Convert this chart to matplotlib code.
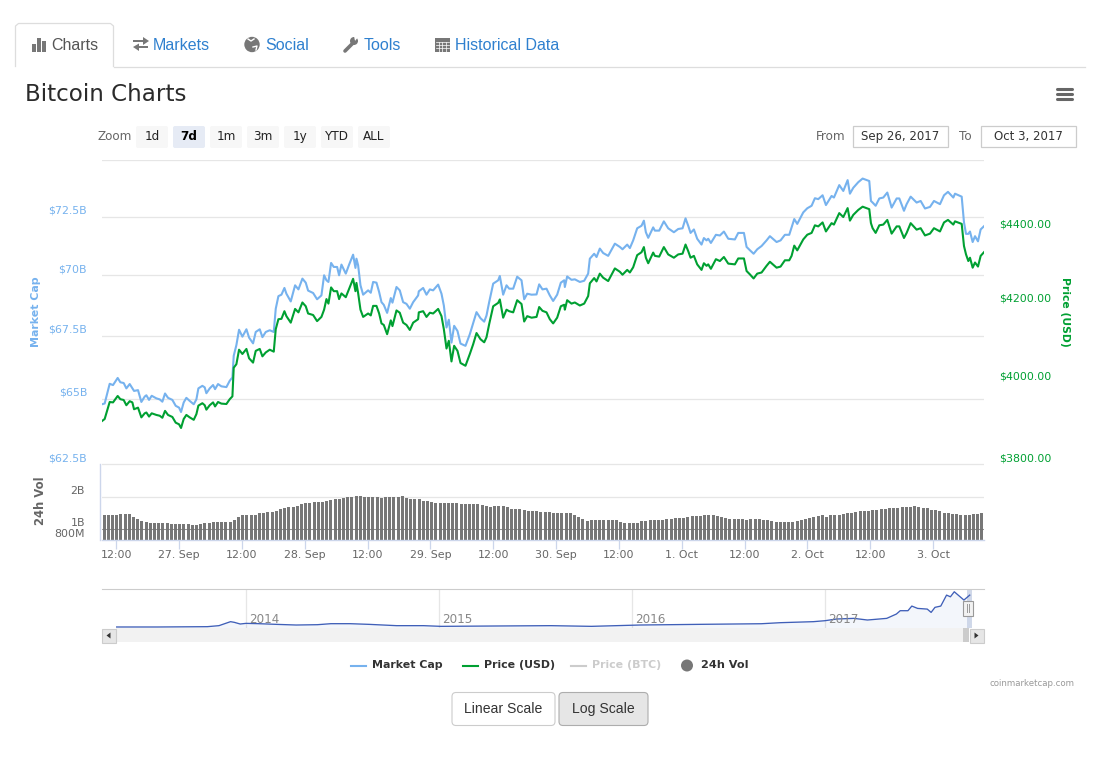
import numpy as np
import matplotlib
matplotlib.use("Agg")
import matplotlib.pyplot as plt
from matplotlib.patches import Circle, FancyBboxPatch, Polygon, Rectangle
from matplotlib.ticker import NullLocator

W, H = 1113, 767

# hours relative to 27 Sep 2017 00:00, as first
read_hours = [
    -14.73, -14.22, -13.77, -13.26, -12.62, -11.73, -11.22, -10.58, -10.07, -9.43,
    -8.92, -8.6, -7.84, -7.2, -6.56, -6.24, -5.73, -5.22, -4.33, -3.69,
    -3.18, -2.67, -2.1, -1.27, -0.63, 0.01, 0.39, 0.9, 1.41, 2.05,
    2.82, 3.33, 3.71, 4.47, 4.92, 5.24, 5.88, 6.52, 6.9, 7.47,
    8.11, 9.07, 9.71, 10.22, 10.47, 10.98, 11.49, 12.13, 12.9, 13.41,
    14.17, 14.68, 15.45, 15.96, 16.6, 17.36, 18.13, 18.51, 19.02, 19.6,
    20.17, 20.55, 21.38, 22.21, 22.85, 23.61, 24.25, 24.7, 25.66, 26.42,
    27.25, 27.76, 28.21, 28.59, 29.1, 29.61, 30.25, 30.63, 31.08, 31.91,
    32.55, 33.31, 33.76, 33.95, 34.27, 34.72, 35.23, 36.18, 36.69, 37.14,
    37.78, 38.29, 38.74, 39.18, 39.82, 40.52, 40.84, 41.61, 42.24, 42.88,
    43.52, 44.16, 44.8, 45.75, 45.88, 46.71, 47.35, 47.99, 48.62, 49.58,
    50.22, 50.67, 51.18, 51.62, 52.13, 52.64, 53.28, 53.86, 54.81, 55.64,
    56.28, 56.92, 57.68, 58.39, 58.83, 59.34, 60.11, 61.07, 61.38, 62.02,
    62.66, 63.17, 63.94, 64.7, 65.53, 66.04, 66.62, 67.45, 68.4, 68.91,
    69.54, 70.31, 70.94, 71.58, 72.35, 73.05, 73.69, 73.82, 74.26, 75.09,
    75.73, 76.69, 77.52, 78.28, 78.6, 79.43, 79.88, 80.51, 81.15, 82.11,
    83.39, 84.34, 84.85, 85.75, 86.26, 86.89, 87.66, 88.49, 88.94, 89.32,
    89.77, 90.72, 91.04, 91.87, 92.76, 93.59, 94.68, 95.51, 96.34, 96.91,
    97.42, 97.87, 98.51, 99.14, 99.97, 100.42, 100.93, 101.25, 101.76, 102.72,
    103.48, 104.25, 105.08, 106.35, 106.99, 108.08, 108.59, 109.22, 109.93, 110.63,
    111.46, 112.41, 113.05, 114.33, 115.09, 115.92, 116.75, 117.2, 117.71, 118.28,
    119.43, 120.2, 121.03, 121.66, 122.3, 123.13, 123.77, 124.85, 125.3, 126.32,
    127.09, 127.92, 128.36, 129.0, 129.96, 130.79, 132.06, 132.38, 132.7, 133.28,
    133.98, 134.74, 135.51, 136.34, 137.3, 137.81, 138.7, 139.21, 139.98, 141.12,
    141.89, 142.72, 143.68, 144.44, 145.59, 146.36, 147.12, 148.14, 148.46, 149.74,
    150.18, 150.57, 151.01, 151.33, 151.84, 152.29, 152.86, 153.37, 154.01,
]
# day ticks came out a touch wider than my first reading, so calibrate
hours = [h * 0.998 for h in read_hours]

market_cap = [
    64.78, 64.81, 65.17, 65.58, 65.53, 65.81, 65.64, 65.61, 65.40, 65.57,
    65.40, 65.30, 65.33, 64.87, 65.08, 65.13, 64.95, 65.11, 65.01, 64.97,
    64.88, 65.20, 65.03, 64.95, 64.72, 64.65, 64.48, 64.85, 65.03, 64.91,
    64.78, 64.97, 65.40, 65.50, 65.44, 65.21, 65.40, 65.53, 65.37, 65.57,
    65.48, 65.45, 65.70, 65.83, 66.69, 67.12, 67.74, 67.46, 67.76, 67.42,
    67.19, 67.65, 67.76, 67.44, 67.65, 67.72, 67.65, 68.60, 69.12, 69.18,
    69.46, 69.22, 68.90, 69.57, 69.40, 69.85, 69.68, 69.35, 69.25, 68.99,
    69.15, 69.99, 69.78, 69.71, 70.51, 70.34, 70.34, 69.99, 70.44, 70.06,
    70.44, 70.86, 70.30, 70.69, 70.41, 69.57, 69.18, 69.36, 69.26, 69.71,
    69.68, 69.29, 68.87, 68.76, 68.43, 69.04, 68.85, 69.50, 69.36, 68.87,
    68.80, 68.60, 68.87, 69.15, 69.32, 69.46, 69.18, 69.40, 69.36, 69.60,
    69.22, 68.73, 67.83, 68.15, 67.22, 67.90, 67.69, 67.18, 67.09, 67.56,
    68.01, 68.46, 68.21, 68.07, 68.32, 68.87, 69.64, 69.78, 69.96, 69.18,
    69.57, 69.43, 69.43, 69.93, 69.78, 68.99, 69.22, 69.18, 69.19, 69.61,
    69.40, 69.43, 69.15, 68.92, 69.18, 69.68, 69.78, 69.50, 69.94, 69.80,
    69.82, 69.71, 69.76, 70.06, 70.69, 70.90, 70.76, 71.12, 70.93, 70.81,
    71.33, 71.19, 71.09, 71.29, 71.14, 71.47, 71.99, 72.10, 72.32, 71.82,
    71.58, 72.03, 71.89, 71.89, 72.29, 71.99, 71.82, 71.96, 71.99, 72.42,
    72.10, 71.79, 71.94, 71.54, 71.29, 71.57, 71.47, 71.54, 71.36, 71.71,
    71.68, 71.85, 71.54, 71.51, 71.79, 71.79, 71.19, 71.05, 70.90, 71.09,
    71.23, 71.47, 71.65, 71.40, 71.47, 71.71, 71.71, 72.03, 72.39, 72.18,
    72.68, 72.86, 72.97, 73.30, 73.26, 73.43, 73.00, 73.40, 73.33, 73.88,
    73.62, 74.10, 73.50, 73.76, 74.01, 74.17, 74.06, 73.18, 73.11, 72.97,
    73.29, 73.33, 73.55, 72.89, 73.29, 73.29, 72.75, 73.04, 73.37, 73.11,
    73.18, 72.85, 72.92, 73.18, 73.04, 73.43, 73.58, 73.33, 73.50, 73.37,
    72.25, 71.75, 71.75, 71.85, 71.40, 71.65, 71.43, 71.94, 72.08,
]

price_usd = [
    3904, 3909, 3929, 3951, 3950, 3966, 3958, 3956, 3943, 3953,
    3950, 3933, 3937, 3913, 3923, 3925, 3915, 3923, 3919, 3917,
    3912, 3929, 3919, 3914, 3900, 3896, 3887, 3909, 3919, 3913,
    3907, 3921, 3942, 3948, 3943, 3932, 3943, 3950, 3940, 3951,
    3947, 3946, 3958, 3965, 4037, 4046, 4083, 4072, 4085, 4061,
    4050, 4080, 4085, 4066, 4076, 4083, 4078, 4136, 4162, 4163,
    4183, 4170, 4153, 4189, 4180, 4206, 4196, 4177, 4173, 4157,
    4168, 4187, 4215, 4203, 4246, 4236, 4236, 4215, 4230, 4220,
    4242, 4269, 4236, 4258, 4231, 4187, 4168, 4177, 4172, 4197,
    4197, 4177, 4151, 4147, 4123, 4159, 4144, 4185, 4179, 4153,
    4147, 4134, 4153, 4162, 4180, 4183, 4168, 4179, 4177, 4189,
    4170, 4136, 4086, 4106, 4053, 4093, 4080, 4049, 4042, 4072,
    4097, 4126, 4110, 4102, 4115, 4149, 4196, 4205, 4214, 4166,
    4187, 4183, 4180, 4212, 4202, 4156, 4170, 4166, 4168, 4194,
    4184, 4180, 4162, 4151, 4166, 4196, 4200, 4187, 4212, 4203,
    4206, 4198, 4203, 4223, 4257, 4271, 4262, 4283, 4272, 4263,
    4297, 4288, 4280, 4293, 4286, 4300, 4333, 4341, 4355, 4326,
    4311, 4340, 4331, 4329, 4355, 4335, 4326, 4335, 4337, 4362,
    4344, 4326, 4331, 4308, 4293, 4311, 4304, 4308, 4296, 4322,
    4317, 4328, 4310, 4308, 4324, 4324, 4290, 4281, 4270, 4283,
    4286, 4304, 4315, 4299, 4302, 4319, 4319, 4331, 4359, 4346,
    4376, 4389, 4394, 4415, 4412, 4423, 4398, 4421, 4417, 4449,
    4438, 4463, 4428, 4444, 4458, 4467, 4460, 4421, 4407, 4394,
    4415, 4417, 4430, 4392, 4412, 4412, 4380, 4394, 4421, 4403,
    4407, 4387, 4392, 4407, 4398, 4423, 4430, 4417, 4426, 4419,
    4358, 4335, 4317, 4326, 4299, 4313, 4302, 4331, 4341,
]

# 24h volume in billions, one value per bar
volume = [
    1.27, 1.27, 1.27, 1.27, 1.29, 1.30, 1.28, 1.19, 1.14, 1.10,
    1.06, 1.05, 1.05, 1.05, 1.05, 1.05, 1.03, 1.03, 1.03, 1.02,
    1.03, 1.01, 1.01, 1.02, 1.05, 1.05, 1.06, 1.08, 1.08, 1.08,
    1.08, 1.11, 1.19, 1.26, 1.26, 1.27, 1.27, 1.31, 1.33, 1.36,
    1.36, 1.38, 1.45, 1.48, 1.50, 1.51, 1.55, 1.61, 1.65, 1.65,
    1.68, 1.68, 1.69, 1.73, 1.75, 1.82, 1.82, 1.85, 1.87, 1.89,
    1.93, 1.93, 1.88, 1.87, 1.87, 1.87, 1.83, 1.87, 1.87, 1.87,
    1.89, 1.91, 1.83, 1.79, 1.79, 1.79, 1.74, 1.72, 1.69, 1.67,
    1.65, 1.65, 1.66, 1.67, 1.67, 1.61, 1.61, 1.61, 1.61, 1.61,
    1.58, 1.55, 1.51, 1.53, 1.54, 1.54, 1.51, 1.45, 1.43, 1.45,
    1.41, 1.39, 1.39, 1.39, 1.36, 1.36, 1.36, 1.33, 1.33, 1.33,
    1.33, 1.33, 1.27, 1.20, 1.14, 1.10, 1.12, 1.12, 1.12, 1.12,
    1.11, 1.12, 1.12, 1.08, 1.05, 1.05, 1.04, 1.05, 1.09, 1.10,
    1.11, 1.12, 1.12, 1.12, 1.15, 1.15, 1.17, 1.17, 1.18, 1.21,
    1.22, 1.22, 1.22, 1.25, 1.25, 1.25, 1.22, 1.20, 1.18, 1.15,
    1.15, 1.15, 1.15, 1.12, 1.14, 1.15, 1.16, 1.13, 1.12, 1.09,
    1.08, 1.08, 1.08, 1.08, 1.08, 1.10, 1.11, 1.16, 1.17, 1.20,
    1.22, 1.25, 1.21, 1.25, 1.25, 1.25, 1.29, 1.31, 1.33, 1.36,
    1.37, 1.39, 1.39, 1.42, 1.42, 1.45, 1.45, 1.48, 1.48, 1.48,
    1.51, 1.51, 1.51, 1.54, 1.51, 1.49, 1.48, 1.42, 1.40, 1.38,
    1.32, 1.33, 1.30, 1.30, 1.27, 1.27, 1.27, 1.30, 1.30, 1.33,
]

nav_years = [
    2013.33, 2013.54, 2013.80, 2013.86, 2013.92, 2013.94, 2013.97, 2014.0, 2014.06, 2014.16,
    2014.26, 2014.37, 2014.44, 2014.54, 2014.64, 2014.78, 2014.92, 2015.01, 2015.27, 2015.58,
    2015.79, 2016.04, 2016.36, 2016.67, 2016.77, 2016.94, 2017.0, 2017.06, 2017.15, 2017.22,
    2017.32, 2017.37, 2017.39, 2017.43, 2017.45, 2017.48, 2017.53, 2017.55, 2017.57, 2017.60,
    2017.63, 2017.65, 2017.67, 2017.71, 2017.72, 2017.75,
]
nav_cap = [
    2.2, 2.2, 2.9, 5.1, 13.8, 12.3, 8.7, 10.1, 9.5, 7.9,
    6.5, 7.2, 9.4, 9.4, 7.9, 5.1, 5.1, 3.6, 4.3, 5.1,
    3.6, 6.5, 8.0, 9.3, 11.6, 13.8, 15.9, 19.6, 21.0, 17.4,
    21.0, 30.4, 37.7, 37.7, 47.8, 42.7, 41.2, 34.0, 45.0, 47.8,
    71.7, 68.0, 79.0, 64.5, 60.9, 71.7,
]

cap_ticks = [62.5, 65, 67.5, 70, 72.5, 75]
cap_labels = ["$62.5B", "$65B", "$67.5B", "$70B", "$72.5B"]
price_ticks = [3800, 4000, 4200, 4400]
price_labels = ["$3800.00", "$4000.00", "$4200.00", "$4400.00"]
vol_ticks = [0.8, 1, 2, 4]
vol_labels = ["800M", "1B", "2B"]
time_ticks = [-12, 0, 12, 24, 36, 48, 60, 72, 84, 96, 108, 120, 132, 144]
time_labels = ["12:00", "27. Sep", "12:00", "28. Sep", "12:00", "29. Sep", "12:00",
               "30. Sep", "12:00", "1. Oct", "12:00", "2. Oct", "12:00", "3. Oct"]
nav_ticks = [2014, 2015, 2016, 2017]

zoom_names = ["1d", "7d", "1m", "3m", "1y", "YTD", "ALL"]
tab_names = ["Markets", "Social", "Tools", "Historical Data"]

BLUE = "#76b2ee"
GREEN = "#00a032"
GRID = "#e6e6e6"
AXIS = "#ccd6eb"
BAR = "#777777"
SANS = "Liberation Sans"
UI = "DejaVu Sans"


def pt(px):
    return px * 0.72


def box(left, top, right, bottom):
    return [left / W, 1 - bottom / H, (right - left) / W, (bottom - top) / H]


def plot_main(fig):
    ax = fig.add_axes(box(102, 160, 984, 464))
    ax.set_yscale("log")
    ax.plot(hours, market_cap, color=BLUE, lw=1.5, solid_joinstyle="round")
    ax.set_xlim(hours[0], hours[-1])
    ax.set_ylim(62.5, 75)
    ax.set_yticks(cap_ticks)
    ax.yaxis.set_minor_locator(NullLocator())
    ax.set_yticklabels([])
    ax.set_xticks([])
    ax.tick_params(length=0)
    ax.grid(True, axis="y", color=GRID, lw=0.9)
    ax.set_axisbelow(True)
    for spine in ax.spines.values():
        spine.set_visible(False)
    for value, label in zip(cap_ticks, cap_labels):
        ax.annotate(label, xy=(0, value), xycoords=ax.get_yaxis_transform(),
                    xytext=(-10.8, 4.3), textcoords="offset points", ha="right", va="center",
                    color=BLUE, fontsize=pt(11), family=UI)

    ax2 = ax.twinx()
    ax2.set_yscale("log")
    ax2.plot(hours, price_usd, color=GREEN, lw=1.5, solid_joinstyle="round")
    ax2.set_ylim(3800, 4600)
    ax2.set_yticks(price_ticks)
    ax2.yaxis.set_minor_locator(NullLocator())
    ax2.set_yticklabels([])
    ax2.tick_params(length=0)
    for spine in ax2.spines.values():
        spine.set_visible(False)
    for value, label in zip(price_ticks, price_labels):
        ax2.annotate(label, xy=(1, value), xycoords=ax2.get_yaxis_transform(),
                     xytext=(10.8, 4.3), textcoords="offset points", ha="left", va="center",
                     color=GREEN, fontsize=pt(11), family=UI)


def plot_volume(fig):
    ax = fig.add_axes(box(102, 464, 984, 540))
    step = (hours[-1] - hours[0]) / len(volume)
    vol_x = hours[0] + step * (np.arange(len(volume)) + 0.5)
    ax.set_yscale("log")
    ax.bar(vol_x, volume, width=step * 0.76, bottom=0.1, color=BAR, zorder=2)
    ax.axhline(1, color="#707070", lw=0.5, zorder=3)
    ax.set_xlim(hours[0], hours[-1])
    ax.set_ylim(0.8, 4)
    ax.set_yticks(vol_ticks)
    ax.yaxis.set_minor_locator(NullLocator())
    ax.set_yticklabels([])
    ax.tick_params(axis="y", length=0)
    ax.grid(True, axis="y", color=GRID, lw=0.9, zorder=0)
    ax.set_axisbelow(True)
    ax.set_xticks(time_ticks)
    ax.set_xticklabels(time_labels, color="#666666", fontsize=pt(11), family=UI)
    ax.tick_params(axis="x", length=6.2, width=0.9, color=AXIS, pad=1.2)
    for name in ["top", "right"]:
        ax.spines[name].set_visible(False)
    ax.spines["bottom"].set_color(AXIS)
    ax.spines["bottom"].set_linewidth(1)
    ax.spines["left"].set_color(AXIS)
    ax.spines["left"].set_linewidth(1)
    ax.spines["left"].set_position(("outward", 1.5))
    for value, label in zip(vol_ticks, vol_labels):
        ax.annotate(label, xy=(0, value), xycoords=ax.get_yaxis_transform(),
                    xytext=(-12.2, 4.3), textcoords="offset points", ha="right", va="center",
                    color="#666666", fontsize=pt(11), family=UI)


def plot_navigator(fig):
    ax = fig.add_axes(box(102, 589, 984, 628))
    ax.fill_between(nav_years, nav_cap, 0, color="#4369be", alpha=0.06, lw=0)
    ax.plot(nav_years, nav_cap, color="#3f5fb8", lw=0.95)
    ax.set_xlim(2013.254, 2017.824)
    ax.set_ylim(0, 85)
    ax.set_yticks([])
    ax.set_xticks(nav_ticks)
    ax.set_xticklabels([])
    ax.tick_params(length=0)
    ax.grid(True, axis="x", color=GRID, lw=0.9)
    ax.set_axisbelow(True)
    for spine in ax.spines.values():
        spine.set_visible(False)
    ax.spines["top"].set_visible(True)
    ax.spines["top"].set_color("#cccccc")
    ax.axvspan(2017.735, 2017.76, color="#c8d2e6", alpha=0.85, lw=0)
    for year in nav_ticks:
        ax.annotate(str(year), xy=(year, 0), xycoords=ax.get_xaxis_transform(),
                    xytext=(2.5, 5.8), textcoords="offset points", ha="left", va="center",
                    color="#888888", fontsize=pt(12), family=UI)


def rbox(ui, left, top, right, bottom, face, edge, radius=2.0, lw=0.8):
    ui.add_patch(FancyBboxPatch((left, top), right - left, bottom - top,
                                boxstyle=f"round,pad=0,rounding_size={radius}",
                                facecolor=face, edgecolor=edge, lw=lw))


def draw_tabs(ui):
    ui.plot([15.5, 15.5, 18.5, 110.5, 113.5, 113.5], [66.5, 26, 23.5, 23.5, 26, 66.5],
            color="#dddddd", lw=0.9)
    ui.plot([113.5, 1085], [66.5, 66.5], color="#dddddd", lw=0.9)
    ui.text(51, 45.5, "Charts", fontsize=pt(16), family=SANS, color="#555555", va="center")
    for name, x in zip(tab_names, [153, 265, 364, 455]):
        ui.text(x, 45.5, name, fontsize=pt(16), family=SANS, color="#2f80cf", va="center")

    icon = "#777777"
    # chart bars
    for left, top in [(32, 44), (37, 38), (42, 41)]:
        ui.add_patch(Rectangle((left, top), 3.6, 51.5 - top, color=icon, lw=0))
    # market arrows
    ui.add_patch(Rectangle((133, 40), 10, 2.2, color=icon, lw=0))
    ui.add_patch(Polygon([(143, 37), (149, 41), (143, 45)], color=icon, lw=0))
    ui.add_patch(Rectangle((139, 46), 9, 2.2, color=icon, lw=0))
    ui.add_patch(Polygon([(139, 43.5), (133, 47), (139, 51)], color=icon, lw=0))
    # globe
    ui.add_patch(Circle((252, 44.5), 7.7, color=icon, lw=0))
    ui.plot([248, 251, 254], [39, 41, 39], color="white", lw=1)
    ui.plot([253, 257, 256], [47, 46, 50], color="white", lw=1)
    # wrench
    ui.plot([345, 354], [51, 42], color=icon, lw=2.6, solid_capstyle="round")
    ui.add_patch(Circle((354, 41), 4, color=icon, lw=0))
    ui.add_patch(Polygon([(354, 36), (359, 36), (355, 41)], color="white", lw=0))
    # calendar
    ui.add_patch(Rectangle((435, 38), 14.5, 14, color=icon, lw=0))
    for y in [42.2, 45.2, 48.2]:
        ui.plot([436, 448.5], [y, y], color="white", lw=0.5)
    for x in [438.6, 442.2, 445.8]:
        ui.plot([x, x], [42.2, 51.5], color="white", lw=0.5)


def draw_header(ui):
    ui.text(25, 94.5, "Bitcoin Charts", fontsize=pt(23), family=UI, color="#2b2b2b", va="center")
    for y in [88.5, 93.5, 98.5]:
        ui.plot([1057, 1071.5], [y, y], color="#666666", lw=2.2, solid_capstyle="round")

    ui.text(98, 137, "Zoom", fontsize=pt(12), family=UI, color="#666666", va="center")
    for i, name in enumerate(zoom_names):
        left = 136 + 37 * i
        face = "#e6ebf5" if name == "7d" else "#f7f7f7"
        rbox(ui, left, 126, left + 32, 148, face, "none", lw=0)
        ui.text(left + 16, 136.5, name, fontsize=pt(12), family=UI, color="#222222" if name != "7d" else "#000000",
                ha="center", va="center", fontweight="bold" if name == "7d" else "normal")

    ui.text(816, 136.5, "From", fontsize=pt(12), family=UI, color="#666666", va="center")
    ui.text(959, 136.5, "To", fontsize=pt(12), family=UI, color="#666666", va="center")
    for left, right, label in [(853, 948, "Sep 26, 2017"), (981, 1076, "Oct 3, 2017")]:
        ui.add_patch(Rectangle((left, 126), right - left, 21, facecolor="white",
                               edgecolor="#cccccc", lw=0.9))
        ui.text((left + right) / 2, 136.5, label, fontsize=pt(11.8), family=UI, color="#333333",
                ha="center", va="center")


def draw_axis_titles(ui):
    ui.text(36, 312, "Market Cap", rotation=90, fontsize=pt(11), family=UI, fontweight="bold",
            color=BLUE, ha="center", va="center")
    ui.text(1065, 312, "Price (USD)", rotation=270, fontsize=pt(10.8), family=UI, fontweight="bold",
            color=GREEN, ha="center", va="center")
    ui.text(41, 501, "24h Vol", rotation=90, fontsize=pt(11.6), family=UI, fontweight="bold",
            color="#666666", ha="center", va="center")


def draw_scrollbar(ui):
    ui.add_patch(Rectangle((116, 628), 853, 14, color="#f2f2f2", lw=0))
    ui.add_patch(Rectangle((963, 628), 6, 14, color="#cccccc", lw=0))
    for left in [101, 969]:
        ui.add_patch(Rectangle((left + 0.5, 628.5), 14.5, 14, facecolor="#e6e6e6",
                               edgecolor="#cccccc", lw=0.8))
    ui.add_patch(Polygon([(110.5, 632.5), (106.5, 635.5), (110.5, 638.5)], color="#333333", lw=0))
    ui.add_patch(Polygon([(974.5, 632.5), (978.5, 635.5), (974.5, 638.5)], color="#333333", lw=0))
    ui.add_patch(Rectangle((962.5, 600.5), 10.5, 15, facecolor="#f2f2f2", edgecolor="#999999", lw=0.8))
    for x in [966.5, 969]:
        ui.plot([x, x], [604, 612], color="#999999", lw=0.7)


def draw_legend(ui):
    entries = [(351, 372, "Market Cap", BLUE, "#333333"),
               (463, 484, "Price (USD)", GREEN, "#333333"),
               (571, 592, "Price (BTC)", "#cccccc", "#cccccc")]
    for x0, x1, label, line_color, text_color in entries:
        ui.plot([x0, x0 + 15], [665.5, 665.5], color=line_color, lw=1.5)
        ui.text(x1, 665.5, label, fontsize=pt(11), family=UI, fontweight="bold",
                color=text_color, va="center")
    ui.add_patch(Circle((687, 665.5), 6, color=BAR, lw=0))
    ui.text(701, 665.5, "24h Vol", fontsize=pt(11.3), family=UI, fontweight="bold", color="#333333", va="center")
    ui.text(1075, 684, "coinmarketcap.com", fontsize=pt(8.7), family=UI, color="#999999",
            ha="right", va="center")


def draw_buttons(ui):
    rbox(ui, 452, 692.5, 555, 725.5, "white", "#cccccc", radius=4)
    rbox(ui, 559, 692.5, 648, 725.5, "#e6e6e6", "#adadad", radius=4)
    ui.text(503.5, 709, "Linear Scale", fontsize=pt(14), family=SANS, color="#333333", ha="center", va="center")
    ui.text(603.5, 709, "Log Scale", fontsize=pt(14), family=SANS, color="#333333", ha="center", va="center")


def main():
    fig = plt.figure(figsize=(W / 100, H / 100), dpi=100, facecolor="white")
    plot_main(fig)
    plot_volume(fig)
    plot_navigator(fig)

    ui = fig.add_axes([0, 0, 1, 1], facecolor="none", zorder=5)
    ui.set_xlim(0, W)
    ui.set_ylim(H, 0)
    ui.axis("off")
    draw_tabs(ui)
    draw_header(ui)
    draw_axis_titles(ui)
    draw_scrollbar(ui)
    draw_legend(ui)
    draw_buttons(ui)
    fig.savefig("out.png", dpi=100)


if __name__ == "__main__":
    main()
